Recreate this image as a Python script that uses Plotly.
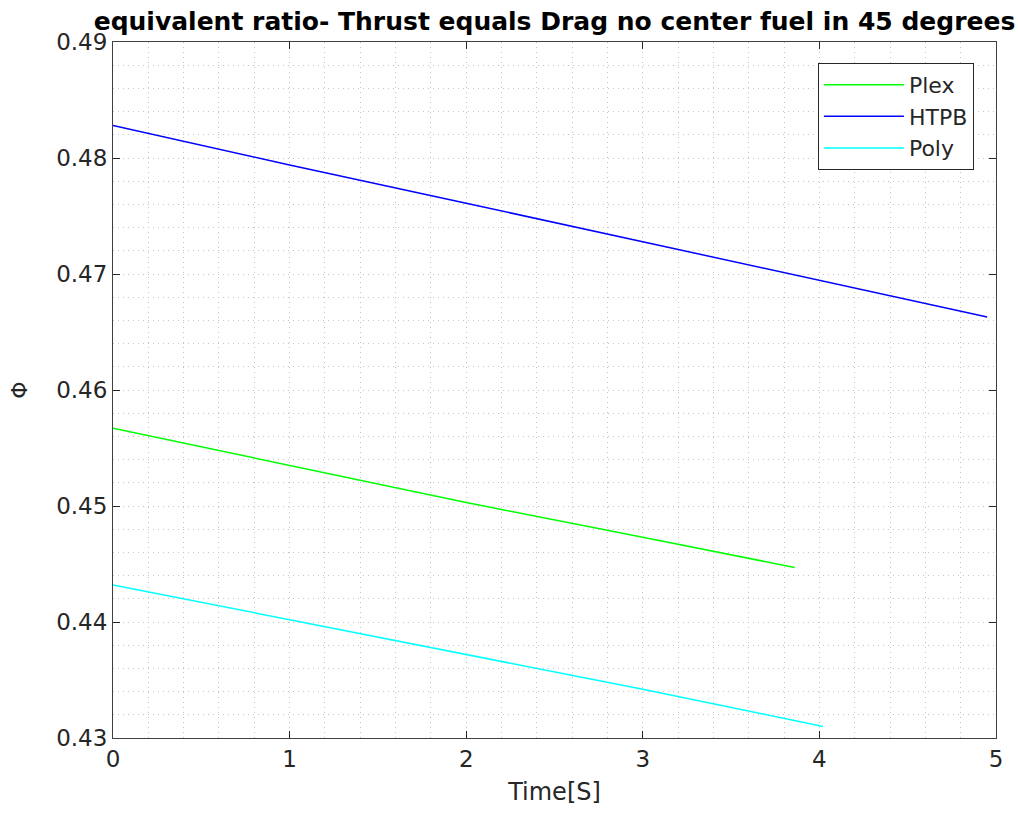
import plotly.graph_objects as go

# Data
t_plex = [0, 1, 2, 3, 3.86]
phi_plex = [0.4567, 0.4535, 0.4503, 0.4473, 0.4447]

t_htpb = [0, 1, 2, 3, 4, 4.95]
phi_htpb = [0.4828, 0.4794, 0.4761, 0.4728, 0.4695, 0.4663]

t_poly = [0, 1, 2, 3, 4.02]
phi_poly = [0.4432, 0.4402, 0.4372, 0.4342, 0.4310]

x_ticks = [0, 1, 2, 3, 4, 5]
y_ticks = [0.43, 0.44, 0.45, 0.46, 0.47, 0.48, 0.49]
y_tick_labels = ["0.43", "0.44", "0.45", "0.46", "0.47", "0.48", "0.49"]

FONT = "DejaVu Sans"
TXT = "#262626"
GRID = "#C4C4C4"
DASH = "1px,4px"

fig = go.Figure()
fig.add_trace(go.Scatter(x=t_plex, y=phi_plex, mode="lines", name="Plex",
                         line=dict(color="#00FF00", width=1.5)))
fig.add_trace(go.Scatter(x=t_htpb, y=phi_htpb, mode="lines", name="HTPB",
                         line=dict(color="#0000FF", width=1.5)))
fig.add_trace(go.Scatter(x=t_poly, y=phi_poly, mode="lines", name="Poly",
                         line=dict(color="#00FFFF", width=1.5)))

axis_common = dict(
    showline=True, linecolor="#404040", linewidth=1, mirror="ticks",
    ticks="inside", ticklen=7, tickcolor="#262626", tickwidth=1,
    showgrid=True, gridcolor=GRID, griddash=DASH, gridwidth=1,
    zeroline=False,
    tickfont=dict(family=FONT, size=23, color=TXT),
)

fig.update_layout(
    width=1018, height=829,
    margin=dict(l=113, r=22, t=42, b=91),
    paper_bgcolor="white", plot_bgcolor="white",
    title=dict(text="<b>equivalent ratio- Thrust equals Drag no center fuel in 45 degrees</b>",
               x=0.5, xref="paper", xanchor="center",
               y=1 - 21 / 829, yref="container", yanchor="middle",
               font=dict(family=FONT, size=25, color="black")),
    xaxis=dict(range=[0, 5], tickvals=x_ticks, **axis_common,
               minor=dict(dtick=0.2, showgrid=True, gridcolor=GRID,
                          griddash=DASH, gridwidth=1, ticks=""),
               title=dict(text="Time[S]", standoff=12,
                          font=dict(family=FONT, size=24, color=TXT))),
    yaxis=dict(range=[0.43, 0.49], tickvals=y_ticks, ticktext=y_tick_labels,
               **axis_common,
               minor=dict(dtick=0.002, showgrid=True, gridcolor=GRID,
                          griddash=DASH, gridwidth=1, ticks=""),
               title=dict(text="Φ", standoff=22,
                          font=dict(family=FONT, size=22, color=TXT))),
    legend=dict(x=0.975, y=0.97, xanchor="right", yanchor="top",
                bgcolor="white", bordercolor="#262626", borderwidth=1,
                font=dict(family=FONT, size=22, color=TXT),
                itemwidth=80, tracegroupgap=0),
    showlegend=True,
)

fig.write_html("out.html")
